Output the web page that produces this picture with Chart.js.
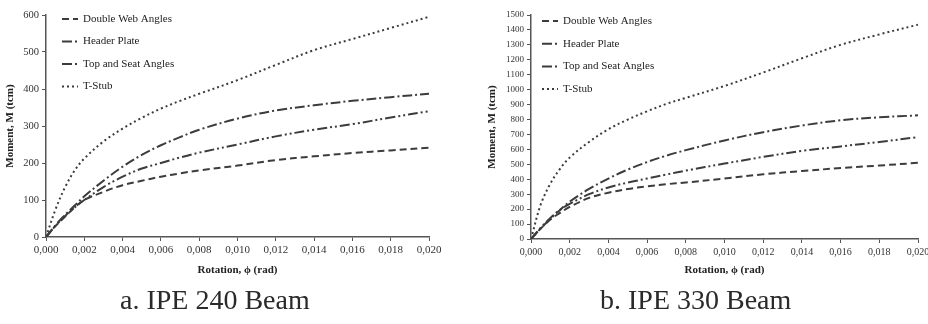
<!DOCTYPE html>
<html>
<head>
<meta charset="utf-8">
<script src="https://cdn.jsdelivr.net/npm/chart.js@4.4.0/dist/chart.umd.min.js"></script>
<style>
  body { margin: 0; width: 928px; height: 324px; overflow: hidden; background: #fff; position: relative; font-family: "Liberation Serif", serif; }
  .box { position: absolute; top: 0; height: 285px; }
  .caption { position: absolute; top: 284px; font-size: 28px; color: #2a2a2a; white-space: nowrap; }
</style>
</head>
<body>
<div class="box" style="left:0;width:455px"><canvas id="chartA" width="455" height="285" style="width:455px;height:285px"></canvas></div>
<div class="box" style="left:465px;width:475px"><canvas id="chartB" width="475" height="285" style="width:475px;height:285px"></canvas></div>
<div class="caption" style="left:120px">a. IPE 240 Beam</div>
<div class="caption" style="left:600px">b. IPE 330 Beam</div>

<script>
// Rotation values (rad) shared by every curve
const rotation = [0, 0.0005, 0.001, 0.0015, 0.002, 0.003, 0.004, 0.005, 0.006, 0.007, 0.008, 0.010, 0.012, 0.014, 0.016, 0.018, 0.020];

// IPE 240 beam - moment (tcm)
const ipe240DoubleWeb = [0, 30, 55, 80, 100, 122, 140, 152, 163, 172, 180, 193, 208, 218, 227, 234, 241];
const ipe240Header    = [0, 30, 57, 80, 100, 135, 163, 185, 200, 215, 228, 250, 272, 290, 305, 323, 340];
const ipe240TopSeat   = [0, 32, 60, 85, 110, 152, 190, 222, 248, 270, 290, 320, 342, 356, 368, 378, 387];
const ipe240TStub     = [0, 75, 135, 180, 212, 258, 293, 322, 347, 368, 387, 424, 465, 505, 535, 565, 595];

// IPE 330 beam - moment (tcm)
const ipe330DoubleWeb = [0, 70, 130, 175, 215, 275, 310, 335, 352, 367, 378, 405, 433, 455, 475, 492, 510];
const ipe330Header    = [0, 75, 140, 195, 235, 300, 345, 378, 405, 432, 458, 505, 550, 590, 620, 650, 682];
const ipe330TopSeat   = [0, 70, 135, 195, 250, 335, 405, 465, 515, 558, 595, 660, 715, 760, 795, 815, 828];
const ipe330TStub     = [0, 230, 370, 470, 545, 650, 735, 800, 855, 905, 945, 1025, 1115, 1210, 1300, 1370, 1435];

const seriesNames = ['Double Web Angles', 'Header Plate', 'Top and Seat Angles', 'T-Stub'];
const seriesDash = [[7, 4], [10, 3, 2, 3, 2, 3], [10, 3, 2, 3], [2, 3]];
const lineColor = '#3c3c3c';

// draws the little legend inside the plot, top left
const lineLegend = {
  id: 'lineLegend',
  afterDraw(chart, args, o) {
    const ctx = chart.ctx;
    ctx.save();
    chart.data.datasets.forEach((ds, i) => {
      const y = o.top + i * o.gap;
      ctx.strokeStyle = ds.borderColor;
      ctx.lineWidth = 2;
      ctx.setLineDash(ds.borderDash);
      ctx.beginPath();
      ctx.moveTo(o.left, y);
      ctx.lineTo(o.left + 16, y);
      ctx.stroke();
      ctx.setLineDash([]);
      ctx.fillStyle = '#222';
      ctx.font = '11px "Liberation Serif"';
      ctx.textBaseline = 'middle';
      ctx.fillText(ds.label, o.left + 21, y);
    });
    ctx.restore();
  }
};

function createChart(id, values, o) {
  const datasets = values.map((v, i) => ({
    label: seriesNames[i],
    data: rotation.map((r, k) => ({ x: r, y: v[k] })),
    borderColor: lineColor,
    borderWidth: 2,
    borderDash: seriesDash[i],
    pointRadius: 0,
    fill: false,
    tension: 0.35
  }));

  return new Chart(document.getElementById(id).getContext('2d'), {
    type: 'line',
    data: { datasets: datasets },
    plugins: [lineLegend],
    options: {
      responsive: false,
      animation: false,
      layout: { padding: { top: 15, right: o.padRight, left: 0, bottom: 0 } },
      scales: {
        x: {
          type: 'linear',
          min: 0,
          max: 0.02,
          afterFit: s => { s.height = o.xHeight; },
          ticks: {
            stepSize: 0.002,
            color: '#333',
            font: { family: 'Liberation Serif', size: o.xTickSize },
            maxRotation: 0,
            callback: v => v.toFixed(3).replace('.', ',')
          },
          grid: { drawOnChartArea: false, drawTicks: true, tickLength: 4, color: '#555' },
          border: { display: true, color: '#555', width: 1.5 },
          title: {
            display: true,
            text: 'Rotation, ϕ (rad)',
            color: '#222',
            font: { family: 'Liberation Serif', size: 11, weight: 'bold' },
            padding: { top: 0, bottom: 8 }
          }
        },
        y: {
          min: 0,
          max: o.yMax,
          afterFit: s => { s.width = o.yWidth; },
          ticks: {
            stepSize: 100,
            color: '#333',
            font: { family: 'Liberation Serif', size: o.yTickSize },
            padding: 3,
            callback: v => String(v)
          },
          grid: { drawOnChartArea: false, drawTicks: true, tickLength: 4, color: '#555' },
          border: { display: true, color: '#555', width: 1.5 },
          title: {
            display: true,
            text: 'Moment, M (tcm)',
            color: '#222',
            font: { family: 'Liberation Serif', size: 11, weight: 'bold' },
            padding: { top: o.yTitlePad, bottom: 0 }
          }
        }
      },
      plugins: {
        legend: { display: false },
        tooltip: { enabled: false },
        lineLegend: o.legend
      }
    }
  });
}

createChart('chartA', [ipe240DoubleWeb, ipe240Header, ipe240TopSeat, ipe240TStub], {
  yMax: 600, yWidth: 46, xHeight: 48, padRight: 26, yTitlePad: 4,
  xTickSize: 11, yTickSize: 10.5,
  legend: { left: 62, top: 19, gap: 22.5 }
});

createChart('chartB', [ipe330DoubleWeb, ipe330Header, ipe330TopSeat, ipe330TStub], {
  yMax: 1500, yWidth: 66, xHeight: 46, padRight: 22, yTitlePad: 21,
  xTickSize: 10, yTickSize: 9,
  legend: { left: 77, top: 21, gap: 22.7 }
});
</script>
</body>
</html>
